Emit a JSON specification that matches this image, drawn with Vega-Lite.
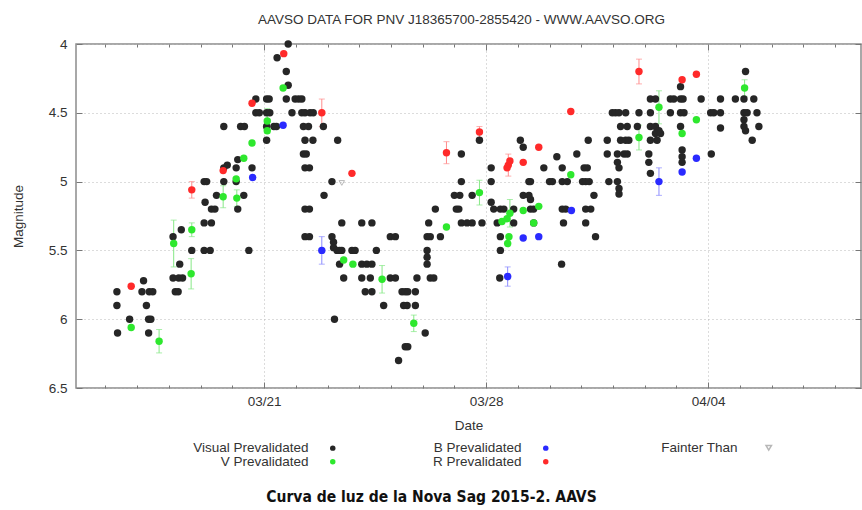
{
  "$schema": "https://vega.github.io/schema/vega-lite/v6.json",
  "width": 785,
  "height": 344,
  "autosize": {"type": "none"},
  "padding": {"left": 76, "top": 44, "right": 1, "bottom": 122},
  "background": "white",
  "config": {
    "view": {"stroke": "#8c8c8c", "strokeWidth": 1.5},
    "font": "Liberation Sans",
    "axis": {"labelFont": "Liberation Sans", "titleFont": "Liberation Sans"}
  },
  "title": {
    "text": "Curva de luz de la Nova Sag 2015-2. AAVS",
    "orient": "bottom",
    "anchor": "middle",
    "frame": "group",
    "font": "DejaVu Sans Condensed",
    "fontSize": 15.5,
    "fontWeight": "bold",
    "color": "#111111",
    "offset": 21,
    "dx": -37
  },
  "datasets": {
    "obs": [
      {"day": 16.36, "mag": 5.80, "band": "Visual Prevalidated"},
      {"day": 16.36, "mag": 5.90, "band": "Visual Prevalidated"},
      {"day": 16.38, "mag": 6.10, "band": "Visual Prevalidated"},
      {"day": 16.76, "mag": 6.00, "band": "Visual Prevalidated"},
      {"day": 17.20, "mag": 5.72, "band": "Visual Prevalidated"},
      {"day": 17.15, "mag": 5.80, "band": "Visual Prevalidated"},
      {"day": 17.38, "mag": 5.80, "band": "Visual Prevalidated"},
      {"day": 17.49, "mag": 5.80, "band": "Visual Prevalidated"},
      {"day": 17.29, "mag": 5.90, "band": "Visual Prevalidated"},
      {"day": 17.36, "mag": 6.00, "band": "Visual Prevalidated"},
      {"day": 17.43, "mag": 6.00, "band": "Visual Prevalidated"},
      {"day": 17.36, "mag": 6.10, "band": "Visual Prevalidated"},
      {"day": 18.13, "mag": 5.40, "band": "Visual Prevalidated"},
      {"day": 18.39, "mag": 5.35, "band": "Visual Prevalidated"},
      {"day": 18.34, "mag": 5.60, "band": "Visual Prevalidated"},
      {"day": 18.13, "mag": 5.70, "band": "Visual Prevalidated"},
      {"day": 18.31, "mag": 5.70, "band": "Visual Prevalidated"},
      {"day": 18.43, "mag": 5.70, "band": "Visual Prevalidated"},
      {"day": 18.20, "mag": 5.80, "band": "Visual Prevalidated"},
      {"day": 18.29, "mag": 5.80, "band": "Visual Prevalidated"},
      {"day": 18.72, "mag": 5.50, "band": "Visual Prevalidated"},
      {"day": 19.11, "mag": 5.30, "band": "Visual Prevalidated"},
      {"day": 19.34, "mag": 5.30, "band": "Visual Prevalidated"},
      {"day": 19.11, "mag": 5.50, "band": "Visual Prevalidated"},
      {"day": 19.30, "mag": 5.50, "band": "Visual Prevalidated"},
      {"day": 19.14, "mag": 5.15, "band": "Visual Prevalidated"},
      {"day": 19.34, "mag": 5.20, "band": "Visual Prevalidated"},
      {"day": 19.45, "mag": 5.20, "band": "Visual Prevalidated"},
      {"day": 19.11, "mag": 5.00, "band": "Visual Prevalidated"},
      {"day": 19.19, "mag": 5.00, "band": "Visual Prevalidated"},
      {"day": 19.50, "mag": 5.10, "band": "Visual Prevalidated"},
      {"day": 19.73, "mag": 5.00, "band": "Visual Prevalidated"},
      {"day": 19.73, "mag": 4.90, "band": "Visual Prevalidated"},
      {"day": 19.73, "mag": 4.60, "band": "Visual Prevalidated"},
      {"day": 19.84, "mag": 4.88, "band": "Visual Prevalidated"},
      {"day": 20.12, "mag": 4.90, "band": "Visual Prevalidated"},
      {"day": 20.12, "mag": 5.00, "band": "Visual Prevalidated"},
      {"day": 20.17, "mag": 5.20, "band": "Visual Prevalidated"},
      {"day": 20.17, "mag": 4.84, "band": "Visual Prevalidated"},
      {"day": 20.36, "mag": 5.10, "band": "Visual Prevalidated"},
      {"day": 20.26, "mag": 4.60, "band": "Visual Prevalidated"},
      {"day": 20.38, "mag": 4.60, "band": "Visual Prevalidated"},
      {"day": 20.52, "mag": 5.50, "band": "Visual Prevalidated"},
      {"day": 20.62, "mag": 4.90, "band": "Visual Prevalidated"},
      {"day": 20.74, "mag": 4.40, "band": "Visual Prevalidated"},
      {"day": 20.74, "mag": 4.50, "band": "Visual Prevalidated"},
      {"day": 20.85, "mag": 4.50, "band": "Visual Prevalidated"},
      {"day": 21.08, "mag": 4.40, "band": "Visual Prevalidated"},
      {"day": 21.16, "mag": 4.40, "band": "Visual Prevalidated"},
      {"day": 21.08, "mag": 4.50, "band": "Visual Prevalidated"},
      {"day": 21.18, "mag": 4.50, "band": "Visual Prevalidated"},
      {"day": 21.08, "mag": 4.60, "band": "Visual Prevalidated"},
      {"day": 21.31, "mag": 4.60, "band": "Visual Prevalidated"},
      {"day": 21.39, "mag": 4.60, "band": "Visual Prevalidated"},
      {"day": 21.08, "mag": 4.70, "band": "Visual Prevalidated"},
      {"day": 21.41, "mag": 4.10, "band": "Visual Prevalidated"},
      {"day": 21.76, "mag": 4.00, "band": "Visual Prevalidated"},
      {"day": 21.70, "mag": 4.20, "band": "Visual Prevalidated"},
      {"day": 21.76, "mag": 4.30, "band": "Visual Prevalidated"},
      {"day": 21.70, "mag": 4.40, "band": "Visual Prevalidated"},
      {"day": 21.98, "mag": 4.40, "band": "Visual Prevalidated"},
      {"day": 22.09, "mag": 4.40, "band": "Visual Prevalidated"},
      {"day": 22.19, "mag": 4.40, "band": "Visual Prevalidated"},
      {"day": 21.88, "mag": 4.50, "band": "Visual Prevalidated"},
      {"day": 22.19, "mag": 4.50, "band": "Visual Prevalidated"},
      {"day": 22.29, "mag": 4.50, "band": "Visual Prevalidated"},
      {"day": 22.24, "mag": 4.60, "band": "Visual Prevalidated"},
      {"day": 22.29, "mag": 4.70, "band": "Visual Prevalidated"},
      {"day": 22.24, "mag": 4.80, "band": "Visual Prevalidated"},
      {"day": 22.29, "mag": 4.90, "band": "Visual Prevalidated"},
      {"day": 22.29, "mag": 5.20, "band": "Visual Prevalidated"},
      {"day": 22.29, "mag": 5.40, "band": "Visual Prevalidated"},
      {"day": 22.45, "mag": 4.50, "band": "Visual Prevalidated"},
      {"day": 22.55, "mag": 4.50, "band": "Visual Prevalidated"},
      {"day": 22.40, "mag": 4.60, "band": "Visual Prevalidated"},
      {"day": 22.87, "mag": 4.60, "band": "Visual Prevalidated"},
      {"day": 22.54, "mag": 4.70, "band": "Visual Prevalidated"},
      {"day": 23.32, "mag": 4.70, "band": "Visual Prevalidated"},
      {"day": 22.33, "mag": 4.80, "band": "Visual Prevalidated"},
      {"day": 22.43, "mag": 4.90, "band": "Visual Prevalidated"},
      {"day": 23.14, "mag": 5.00, "band": "Visual Prevalidated"},
      {"day": 22.89, "mag": 5.10, "band": "Visual Prevalidated"},
      {"day": 22.43, "mag": 5.20, "band": "Visual Prevalidated"},
      {"day": 23.45, "mag": 5.30, "band": "Visual Prevalidated"},
      {"day": 24.08, "mag": 5.30, "band": "Visual Prevalidated"},
      {"day": 24.40, "mag": 5.30, "band": "Visual Prevalidated"},
      {"day": 26.19, "mag": 5.30, "band": "Visual Prevalidated"},
      {"day": 26.40, "mag": 5.20, "band": "Visual Prevalidated"},
      {"day": 22.43, "mag": 5.40, "band": "Visual Prevalidated"},
      {"day": 23.14, "mag": 5.40, "band": "Visual Prevalidated"},
      {"day": 23.19, "mag": 5.44, "band": "Visual Prevalidated"},
      {"day": 23.19, "mag": 5.48, "band": "Visual Prevalidated"},
      {"day": 23.30, "mag": 5.50, "band": "Visual Prevalidated"},
      {"day": 23.38, "mag": 5.50, "band": "Visual Prevalidated"},
      {"day": 23.45, "mag": 5.50, "band": "Visual Prevalidated"},
      {"day": 23.77, "mag": 5.50, "band": "Visual Prevalidated"},
      {"day": 23.87, "mag": 5.50, "band": "Visual Prevalidated"},
      {"day": 24.98, "mag": 5.40, "band": "Visual Prevalidated"},
      {"day": 25.14, "mag": 5.40, "band": "Visual Prevalidated"},
      {"day": 26.14, "mag": 5.40, "band": "Visual Prevalidated"},
      {"day": 26.24, "mag": 5.40, "band": "Visual Prevalidated"},
      {"day": 26.56, "mag": 5.40, "band": "Visual Prevalidated"},
      {"day": 24.54, "mag": 5.50, "band": "Visual Prevalidated"},
      {"day": 26.14, "mag": 5.50, "band": "Visual Prevalidated"},
      {"day": 26.14, "mag": 5.55, "band": "Visual Prevalidated"},
      {"day": 26.14, "mag": 5.60, "band": "Visual Prevalidated"},
      {"day": 23.38, "mag": 5.60, "band": "Visual Prevalidated"},
      {"day": 24.08, "mag": 5.60, "band": "Visual Prevalidated"},
      {"day": 24.24, "mag": 5.60, "band": "Visual Prevalidated"},
      {"day": 24.40, "mag": 5.60, "band": "Visual Prevalidated"},
      {"day": 23.51, "mag": 5.70, "band": "Visual Prevalidated"},
      {"day": 24.08, "mag": 5.70, "band": "Visual Prevalidated"},
      {"day": 24.35, "mag": 5.70, "band": "Visual Prevalidated"},
      {"day": 24.98, "mag": 5.70, "band": "Visual Prevalidated"},
      {"day": 25.14, "mag": 5.70, "band": "Visual Prevalidated"},
      {"day": 25.82, "mag": 5.70, "band": "Visual Prevalidated"},
      {"day": 26.24, "mag": 5.70, "band": "Visual Prevalidated"},
      {"day": 26.35, "mag": 5.70, "band": "Visual Prevalidated"},
      {"day": 24.19, "mag": 5.80, "band": "Visual Prevalidated"},
      {"day": 24.40, "mag": 5.80, "band": "Visual Prevalidated"},
      {"day": 25.35, "mag": 5.80, "band": "Visual Prevalidated"},
      {"day": 25.45, "mag": 5.80, "band": "Visual Prevalidated"},
      {"day": 25.53, "mag": 5.80, "band": "Visual Prevalidated"},
      {"day": 25.77, "mag": 5.80, "band": "Visual Prevalidated"},
      {"day": 24.77, "mag": 5.90, "band": "Visual Prevalidated"},
      {"day": 25.40, "mag": 5.90, "band": "Visual Prevalidated"},
      {"day": 25.51, "mag": 5.90, "band": "Visual Prevalidated"},
      {"day": 25.77, "mag": 5.90, "band": "Visual Prevalidated"},
      {"day": 23.22, "mag": 6.00, "band": "Visual Prevalidated"},
      {"day": 26.08, "mag": 6.10, "band": "Visual Prevalidated"},
      {"day": 25.45, "mag": 6.20, "band": "Visual Prevalidated"},
      {"day": 25.53, "mag": 6.20, "band": "Visual Prevalidated"},
      {"day": 25.24, "mag": 6.30, "band": "Visual Prevalidated"},
      {"day": 27.22, "mag": 4.80, "band": "Visual Prevalidated"},
      {"day": 27.22, "mag": 5.00, "band": "Visual Prevalidated"},
      {"day": 27.00, "mag": 5.10, "band": "Visual Prevalidated"},
      {"day": 27.17, "mag": 5.10, "band": "Visual Prevalidated"},
      {"day": 27.56, "mag": 5.10, "band": "Visual Prevalidated"},
      {"day": 27.06, "mag": 5.20, "band": "Visual Prevalidated"},
      {"day": 27.14, "mag": 5.20, "band": "Visual Prevalidated"},
      {"day": 27.22, "mag": 5.30, "band": "Visual Prevalidated"},
      {"day": 27.40, "mag": 5.30, "band": "Visual Prevalidated"},
      {"day": 27.56, "mag": 5.30, "band": "Visual Prevalidated"},
      {"day": 27.87, "mag": 5.30, "band": "Visual Prevalidated"},
      {"day": 27.79, "mag": 4.70, "band": "Visual Prevalidated"},
      {"day": 28.16, "mag": 4.90, "band": "Visual Prevalidated"},
      {"day": 28.16, "mag": 5.00, "band": "Visual Prevalidated"},
      {"day": 28.16, "mag": 5.15, "band": "Visual Prevalidated"},
      {"day": 28.24, "mag": 5.20, "band": "Visual Prevalidated"},
      {"day": 28.45, "mag": 5.20, "band": "Visual Prevalidated"},
      {"day": 28.56, "mag": 5.20, "band": "Visual Prevalidated"},
      {"day": 28.35, "mag": 5.30, "band": "Visual Prevalidated"},
      {"day": 28.45, "mag": 5.40, "band": "Visual Prevalidated"},
      {"day": 28.45, "mag": 5.50, "band": "Visual Prevalidated"},
      {"day": 28.43, "mag": 5.70, "band": "Visual Prevalidated"},
      {"day": 28.87, "mag": 5.30, "band": "Visual Prevalidated"},
      {"day": 28.87, "mag": 5.20, "band": "Visual Prevalidated"},
      {"day": 29.08, "mag": 4.70, "band": "Visual Prevalidated"},
      {"day": 29.17, "mag": 4.75, "band": "Visual Prevalidated"},
      {"day": 29.35, "mag": 5.00, "band": "Visual Prevalidated"},
      {"day": 29.40, "mag": 5.00, "band": "Visual Prevalidated"},
      {"day": 29.17, "mag": 5.10, "band": "Visual Prevalidated"},
      {"day": 29.35, "mag": 5.10, "band": "Visual Prevalidated"},
      {"day": 29.40, "mag": 5.13, "band": "Visual Prevalidated"},
      {"day": 29.40, "mag": 5.20, "band": "Visual Prevalidated"},
      {"day": 29.50, "mag": 5.20, "band": "Visual Prevalidated"},
      {"day": 29.50, "mag": 5.30, "band": "Visual Prevalidated"},
      {"day": 29.82, "mag": 4.90, "band": "Visual Prevalidated"},
      {"day": 30.00, "mag": 5.00, "band": "Visual Prevalidated"},
      {"day": 30.23, "mag": 4.82, "band": "Visual Prevalidated"},
      {"day": 30.09, "mag": 5.00, "band": "Visual Prevalidated"},
      {"day": 30.40, "mag": 4.90, "band": "Visual Prevalidated"},
      {"day": 30.40, "mag": 5.00, "band": "Visual Prevalidated"},
      {"day": 30.56, "mag": 5.00, "band": "Visual Prevalidated"},
      {"day": 30.40, "mag": 5.20, "band": "Visual Prevalidated"},
      {"day": 30.51, "mag": 5.20, "band": "Visual Prevalidated"},
      {"day": 30.44, "mag": 5.30, "band": "Visual Prevalidated"},
      {"day": 30.38, "mag": 5.60, "band": "Visual Prevalidated"},
      {"day": 30.86, "mag": 4.80, "band": "Visual Prevalidated"},
      {"day": 31.09, "mag": 4.90, "band": "Visual Prevalidated"},
      {"day": 31.19, "mag": 4.90, "band": "Visual Prevalidated"},
      {"day": 31.04, "mag": 5.00, "band": "Visual Prevalidated"},
      {"day": 31.14, "mag": 5.00, "band": "Visual Prevalidated"},
      {"day": 31.25, "mag": 5.00, "band": "Visual Prevalidated"},
      {"day": 31.40, "mag": 5.10, "band": "Visual Prevalidated"},
      {"day": 31.14, "mag": 5.20, "band": "Visual Prevalidated"},
      {"day": 31.30, "mag": 5.20, "band": "Visual Prevalidated"},
      {"day": 31.14, "mag": 5.30, "band": "Visual Prevalidated"},
      {"day": 31.45, "mag": 5.40, "band": "Visual Prevalidated"},
      {"day": 31.22, "mag": 4.70, "band": "Visual Prevalidated"},
      {"day": 31.82, "mag": 4.70, "band": "Visual Prevalidated"},
      {"day": 31.82, "mag": 4.80, "band": "Visual Prevalidated"},
      {"day": 31.87, "mag": 5.00, "band": "Visual Prevalidated"},
      {"day": 31.98, "mag": 4.50, "band": "Visual Prevalidated"},
      {"day": 32.08, "mag": 4.50, "band": "Visual Prevalidated"},
      {"day": 32.19, "mag": 4.50, "band": "Visual Prevalidated"},
      {"day": 32.40, "mag": 4.50, "band": "Visual Prevalidated"},
      {"day": 32.24, "mag": 4.60, "band": "Visual Prevalidated"},
      {"day": 32.45, "mag": 4.60, "band": "Visual Prevalidated"},
      {"day": 32.24, "mag": 4.70, "band": "Visual Prevalidated"},
      {"day": 32.40, "mag": 4.70, "band": "Visual Prevalidated"},
      {"day": 32.50, "mag": 4.70, "band": "Visual Prevalidated"},
      {"day": 32.14, "mag": 4.80, "band": "Visual Prevalidated"},
      {"day": 32.35, "mag": 4.80, "band": "Visual Prevalidated"},
      {"day": 32.45, "mag": 4.80, "band": "Visual Prevalidated"},
      {"day": 32.14, "mag": 4.86, "band": "Visual Prevalidated"},
      {"day": 32.19, "mag": 4.90, "band": "Visual Prevalidated"},
      {"day": 32.14, "mag": 5.00, "band": "Visual Prevalidated"},
      {"day": 32.19, "mag": 5.05, "band": "Visual Prevalidated"},
      {"day": 32.19, "mag": 5.09, "band": "Visual Prevalidated"},
      {"day": 32.82, "mag": 4.50, "band": "Visual Prevalidated"},
      {"day": 32.77, "mag": 4.60, "band": "Visual Prevalidated"},
      {"day": 33.18, "mag": 4.40, "band": "Visual Prevalidated"},
      {"day": 33.34, "mag": 4.40, "band": "Visual Prevalidated"},
      {"day": 33.18, "mag": 4.50, "band": "Visual Prevalidated"},
      {"day": 33.18, "mag": 4.60, "band": "Visual Prevalidated"},
      {"day": 33.34, "mag": 4.60, "band": "Visual Prevalidated"},
      {"day": 33.45, "mag": 4.63, "band": "Visual Prevalidated"},
      {"day": 33.34, "mag": 4.65, "band": "Visual Prevalidated"},
      {"day": 33.50, "mag": 4.65, "band": "Visual Prevalidated"},
      {"day": 33.18, "mag": 4.70, "band": "Visual Prevalidated"},
      {"day": 33.39, "mag": 4.70, "band": "Visual Prevalidated"},
      {"day": 33.13, "mag": 4.80, "band": "Visual Prevalidated"},
      {"day": 33.13, "mag": 4.86, "band": "Visual Prevalidated"},
      {"day": 33.18, "mag": 4.94, "band": "Visual Prevalidated"},
      {"day": 33.81, "mag": 4.40, "band": "Visual Prevalidated"},
      {"day": 33.92, "mag": 4.40, "band": "Visual Prevalidated"},
      {"day": 33.81, "mag": 4.50, "band": "Visual Prevalidated"},
      {"day": 34.13, "mag": 4.31, "band": "Visual Prevalidated"},
      {"day": 34.13, "mag": 4.40, "band": "Visual Prevalidated"},
      {"day": 34.21, "mag": 4.40, "band": "Visual Prevalidated"},
      {"day": 34.13, "mag": 4.50, "band": "Visual Prevalidated"},
      {"day": 34.24, "mag": 4.50, "band": "Visual Prevalidated"},
      {"day": 34.13, "mag": 4.60, "band": "Visual Prevalidated"},
      {"day": 34.18, "mag": 4.77, "band": "Visual Prevalidated"},
      {"day": 34.18, "mag": 4.82, "band": "Visual Prevalidated"},
      {"day": 34.18, "mag": 4.86, "band": "Visual Prevalidated"},
      {"day": 34.78, "mag": 4.40, "band": "Visual Prevalidated"},
      {"day": 35.08, "mag": 4.50, "band": "Visual Prevalidated"},
      {"day": 35.18, "mag": 4.50, "band": "Visual Prevalidated"},
      {"day": 35.39, "mag": 4.50, "band": "Visual Prevalidated"},
      {"day": 35.39, "mag": 4.40, "band": "Visual Prevalidated"},
      {"day": 35.39, "mag": 4.61, "band": "Visual Prevalidated"},
      {"day": 35.10, "mag": 4.80, "band": "Visual Prevalidated"},
      {"day": 35.86, "mag": 4.40, "band": "Visual Prevalidated"},
      {"day": 36.18, "mag": 4.20, "band": "Visual Prevalidated"},
      {"day": 36.13, "mag": 4.40, "band": "Visual Prevalidated"},
      {"day": 36.44, "mag": 4.40, "band": "Visual Prevalidated"},
      {"day": 36.13, "mag": 4.50, "band": "Visual Prevalidated"},
      {"day": 36.23, "mag": 4.50, "band": "Visual Prevalidated"},
      {"day": 36.54, "mag": 4.50, "band": "Visual Prevalidated"},
      {"day": 36.13, "mag": 4.55, "band": "Visual Prevalidated"},
      {"day": 36.13, "mag": 4.60, "band": "Visual Prevalidated"},
      {"day": 36.18, "mag": 4.63, "band": "Visual Prevalidated"},
      {"day": 36.60, "mag": 4.60, "band": "Visual Prevalidated"},
      {"day": 36.39, "mag": 4.70, "band": "Visual Prevalidated"},
      {"day": 16.81, "mag": 6.06, "band": "V Prevalidated"},
      {"day": 17.69, "mag": 6.16, "band": "V Prevalidated", "err": 0.085},
      {"day": 18.15, "mag": 5.45, "band": "V Prevalidated", "err": 0.17},
      {"day": 18.72, "mag": 5.35, "band": "V Prevalidated", "err": 0.05},
      {"day": 18.70, "mag": 5.67, "band": "V Prevalidated", "err": 0.11},
      {"day": 19.71, "mag": 5.11, "band": "V Prevalidated", "err": 0.08},
      {"day": 20.12, "mag": 4.98, "band": "V Prevalidated"},
      {"day": 20.14, "mag": 5.12, "band": "V Prevalidated", "err": 0.06},
      {"day": 20.36, "mag": 4.83, "band": "V Prevalidated"},
      {"day": 20.62, "mag": 4.72, "band": "V Prevalidated"},
      {"day": 21.10, "mag": 4.56, "band": "V Prevalidated", "err": 0.09},
      {"day": 21.10, "mag": 4.63, "band": "V Prevalidated"},
      {"day": 21.60, "mag": 4.32, "band": "V Prevalidated"},
      {"day": 23.51, "mag": 5.57, "band": "V Prevalidated"},
      {"day": 23.80, "mag": 5.60, "band": "V Prevalidated"},
      {"day": 24.72, "mag": 5.71, "band": "V Prevalidated", "err": 0.10},
      {"day": 25.72, "mag": 6.03, "band": "V Prevalidated", "err": 0.06},
      {"day": 26.75, "mag": 5.33, "band": "V Prevalidated"},
      {"day": 27.79, "mag": 5.08, "band": "V Prevalidated", "err": 0.09},
      {"day": 28.50, "mag": 5.29, "band": "V Prevalidated"},
      {"day": 28.66, "mag": 5.27, "band": "V Prevalidated"},
      {"day": 28.75, "mag": 5.23, "band": "V Prevalidated", "err": 0.10},
      {"day": 28.72, "mag": 5.40, "band": "V Prevalidated"},
      {"day": 28.68, "mag": 5.45, "band": "V Prevalidated"},
      {"day": 29.17, "mag": 5.21, "band": "V Prevalidated"},
      {"day": 29.50, "mag": 5.30, "band": "V Prevalidated"},
      {"day": 29.66, "mag": 5.18, "band": "V Prevalidated"},
      {"day": 30.67, "mag": 4.95, "band": "V Prevalidated"},
      {"day": 32.82, "mag": 4.68, "band": "V Prevalidated", "err": 0.09},
      {"day": 33.45, "mag": 4.46, "band": "V Prevalidated", "err": 0.12},
      {"day": 34.18, "mag": 4.65, "band": "V Prevalidated"},
      {"day": 34.63, "mag": 4.55, "band": "V Prevalidated"},
      {"day": 36.15, "mag": 4.32, "band": "V Prevalidated", "err": 0.06},
      {"day": 16.81, "mag": 5.76, "band": "R Prevalidated"},
      {"day": 18.72, "mag": 5.06, "band": "R Prevalidated", "err": 0.06},
      {"day": 19.71, "mag": 4.92, "band": "R Prevalidated"},
      {"day": 20.62, "mag": 4.43, "band": "R Prevalidated"},
      {"day": 21.62, "mag": 4.07, "band": "R Prevalidated"},
      {"day": 22.82, "mag": 4.50, "band": "R Prevalidated", "err": 0.10},
      {"day": 23.77, "mag": 4.94, "band": "R Prevalidated"},
      {"day": 26.75, "mag": 4.79, "band": "R Prevalidated", "err": 0.08},
      {"day": 27.79, "mag": 4.64, "band": "R Prevalidated", "err": 0.04},
      {"day": 28.70, "mag": 4.88, "band": "R Prevalidated", "err": 0.08},
      {"day": 28.75, "mag": 4.85, "band": "R Prevalidated"},
      {"day": 28.66, "mag": 4.90, "band": "R Prevalidated"},
      {"day": 29.17, "mag": 4.86, "band": "R Prevalidated"},
      {"day": 29.66, "mag": 4.75, "band": "R Prevalidated"},
      {"day": 30.67, "mag": 4.49, "band": "R Prevalidated"},
      {"day": 32.82, "mag": 4.20, "band": "R Prevalidated", "err": 0.09},
      {"day": 34.18, "mag": 4.26, "band": "R Prevalidated"},
      {"day": 34.63, "mag": 4.22, "band": "R Prevalidated"},
      {"day": 20.64, "mag": 4.97, "band": "B Prevalidated"},
      {"day": 21.60, "mag": 4.59, "band": "B Prevalidated"},
      {"day": 22.82, "mag": 5.50, "band": "B Prevalidated", "err": 0.10},
      {"day": 28.68, "mag": 5.69, "band": "B Prevalidated", "err": 0.07},
      {"day": 29.17, "mag": 5.41, "band": "B Prevalidated"},
      {"day": 29.66, "mag": 5.40, "band": "B Prevalidated"},
      {"day": 30.69, "mag": 5.21, "band": "B Prevalidated"},
      {"day": 33.45, "mag": 5.00, "band": "B Prevalidated", "err": 0.10},
      {"day": 34.18, "mag": 4.93, "band": "B Prevalidated"},
      {"day": 34.63, "mag": 4.83, "band": "B Prevalidated"},
      {"day": 23.45, "mag": 5.01, "band": "Fainter Than"}
    ]
  },
  "data": {"name": "obs"},
  "resolve": {"axis": {"x": "independent", "y": "independent"}},
  "layer": [
    {
      "transform": [{"filter": "datum.band == 'V Prevalidated' && isValid(datum.err)"}],
      "mark": {"type": "errorbar", "ticks": true, "size": 6, "thickness": 1, "color": "#86e886"},
      "encoding": {
        "x": {"field": "day", "type": "quantitative", "scale": {"domain": [15.07, 39.82], "nice": false, "zero": false}, "axis": null},
        "y": {"field": "mag", "type": "quantitative", "scale": {"domain": [4, 6.5], "reverse": true, "nice": false, "zero": false}, "axis": null},
        "yError": {"field": "err"}
      }
    },
    {
      "transform": [{"filter": "datum.band == 'R Prevalidated' && isValid(datum.err)"}],
      "mark": {"type": "errorbar", "ticks": true, "size": 6, "thickness": 1, "color": "#ff8c8c"},
      "encoding": {
        "x": {"field": "day", "type": "quantitative", "axis": null},
        "y": {"field": "mag", "type": "quantitative", "axis": null},
        "yError": {"field": "err"}
      }
    },
    {
      "transform": [{"filter": "datum.band == 'B Prevalidated' && isValid(datum.err)"}],
      "mark": {"type": "errorbar", "ticks": true, "size": 6, "thickness": 1, "color": "#8c8cff"},
      "encoding": {
        "x": {"field": "day", "type": "quantitative", "axis": null},
        "y": {"field": "mag", "type": "quantitative", "axis": null},
        "yError": {"field": "err"}
      }
    },
    {
      "transform": [{"filter": "datum.band != 'Fainter Than'"}],
      "mark": {"type": "circle", "size": 55, "opacity": 1},
      "encoding": {
        "x": {
          "field": "day", "type": "quantitative",
          "axis": {
            "orient": "bottom",
            "values": [16,17,18,19,20,21,22,23,24,25,26,27,28,29,30,31,32,33,34,35,36,37,38,39],
            "labelExpr": "datum.value == 21 ? '03/21' : datum.value == 28 ? '03/28' : datum.value == 35 ? '04/04' : ''",
            "labelOverlap": false, "labelBound": false, "labelFlush": false,
            "labelFontSize": 13.5, "labelColor": "#333333", "labelPadding": 12,
            "domain": false,
            "tickColor": "#777777", "tickWidth": 1,
            "tickSize": {"condition": {"test": "datum.value == 21 || datum.value == 28 || datum.value == 35", "value": -6}, "value": -3},
            "grid": true, "gridColor": "#b8b8b8", "gridDash": [1, 3], "gridWidth": 1,
            "gridOpacity": {"condition": {"test": "datum.value == 21 || datum.value == 28 || datum.value == 35", "value": 1}, "value": 0},
            "title": "Date", "titleFontSize": 13.5, "titleFontWeight": "normal", "titleColor": "#333333", "titlePadding": 8
          }
        },
        "y": {
          "field": "mag", "type": "quantitative",
          "axis": {
            "orient": "left",
            "values": [4, 4.5, 5, 5.5, 6, 6.5],
            "format": "~g",
            "labelFontSize": 13.5, "labelColor": "#333333", "labelPadding": 15,
            "domain": false,
            "tickColor": "#777777", "tickSize": -6,
            "grid": true, "gridColor": "#b8b8b8", "gridDash": [1, 3], "gridWidth": 1,
            "title": "Magnitude", "titleFontSize": 13.5, "titleFontWeight": "normal", "titleColor": "#333333", "titlePadding": 23
          }
        },
        "color": {
          "field": "band", "type": "nominal",
          "scale": {
            "domain": ["Visual Prevalidated", "V Prevalidated", "B Prevalidated", "R Prevalidated"],
            "range": ["#262626", "#2ee82e", "#2a2aff", "#ff2a2a"]
          },
          "legend": {
            "title": null,
            "orient": "none",
            "legendX": 250,
            "legendY": 397,
            "columns": 2,
            "columnPadding": 96,
            "rowPadding": -2,
            "padding": 0,
            "symbolType": "circle",
            "symbolSize": 30,
            "symbolStrokeWidth": 0,
            "labelAlign": "right",
            "labelOffset": -31,
            "labelFontSize": 13.5,
            "labelColor": "#333333",
            "labelFont": "Liberation Sans"
          }
        }
      }
    },
    {
      "transform": [{"filter": "datum.band == 'Fainter Than'"}],
      "mark": {"type": "point", "shape": "triangle-down", "filled": false, "size": 30, "strokeWidth": 1},
      "encoding": {
        "x": {
          "field": "day", "type": "quantitative",
          "axis": {
            "orient": "top",
            "values": [16,17,18,19,20,21,22,23,24,25,26,27,28,29,30,31,32,33,34,35,36,37,38,39],
            "labels": false, "domain": false, "grid": false,
            "tickColor": "#777777",
            "tickSize": {"condition": {"test": "datum.value == 21 || datum.value == 28 || datum.value == 35", "value": -6}, "value": -3},
            "title": "AAVSO DATA FOR PNV J18365700-2855420 - WWW.AAVSO.ORG",
            "titleFontSize": 13.5, "titleFontWeight": "normal", "titleColor": "#333333", "titlePadding": 17, "titleX": 385
          }
        },
        "y": {
          "field": "mag", "type": "quantitative",
          "axis": {
            "orient": "right",
            "values": [4, 4.5, 5, 5.5, 6, 6.5],
            "labels": false, "domain": false, "grid": false,
            "tickColor": "#777777", "tickSize": -6,
            "title": null
          }
        },
        "stroke": {
          "field": "band", "type": "nominal",
          "scale": {"domain": ["Fainter Than"], "range": ["#9a9a9a"]},
          "legend": {
            "title": null,
            "orient": "none",
            "legendX": 686,
            "legendY": 397,
            "padding": 0,
            "symbolType": "triangle-down",
            "symbolSize": 30,
            "symbolFillColor": "transparent",
            "labelAlign": "right",
            "labelOffset": -38,
            "labelFontSize": 13.5,
            "labelColor": "#333333",
            "labelFont": "Liberation Sans"
          }
        }
      }
    }
  ]
}
